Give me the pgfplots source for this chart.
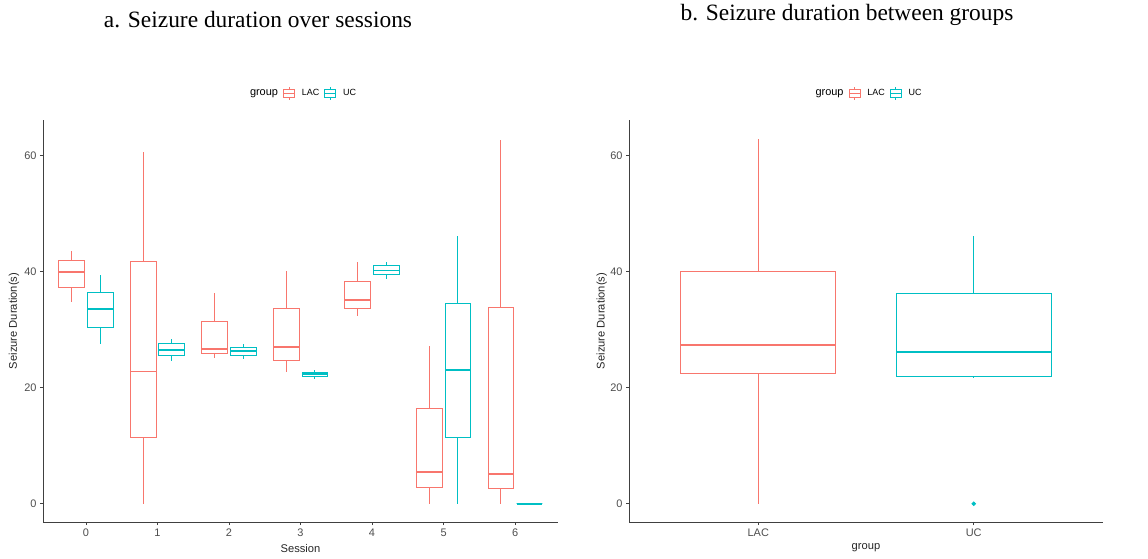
\documentclass[border=0pt]{standalone}
\usepackage{pgfplots}
\pgfplotsset{compat=1.18}
\usepgfplotslibrary{statistics}
\usepackage{fontspec}
\setmainfont{Liberation Sans}
\newfontfamily\titlefont{Liberation Serif}
\definecolor{lac}{HTML}{F8766D}
\definecolor{uc}{HTML}{00BFC4}
\definecolor{tickgray}{HTML}{4D4D4D}
\pgfplotsset{
  ggbox/.style={
    scale only axis,
    axis x line*=bottom, axis y line*=left,
    axis line style={line width=0.9bp, draw=black!75, -},
    ymin=-3.15, ymax=66.15, ytick={0,20,40,60},
    tick align=outside, major tick length=3bp,
    tick style={line width=0.8bp, draw=black!75},
    ticklabel style={font=\fontsize{11}{13}\selectfont, text=tickgray},
    /pgf/number format/assume math mode=true,
    label style={font=\fontsize{11.2}{13}\selectfont, text=black!85},
    ylabel={Seizure Duration(s)},
    boxplot/draw direction=y,
    boxplot/whisker extend=0,
    boxplot/every median/.style={line width=1.9bp},
    legend columns=-1,
    legend style={draw=none, fill=none, font=\fontsize{9}{11}\selectfont,
      at={(0.5,1.067)}, anchor=center,
      /tikz/every odd column/.append style={column sep=5bp},
      /tikz/every even column/.append style={column sep=3bp}},
  },
  lacb/.style={draw=lac, line width=0.8bp, solid, forget plot},
  ucb/.style={draw=uc, line width=0.8bp, solid, forget plot},
  boxicon/.style={legend image code/.code={
      \draw[##1] (0bp,-4bp) rectangle (11bp,4bp);
      \draw[##1] (0bp,0bp) -- (11bp,0bp);
      \draw[##1] (5.5bp,4bp) -- (5.5bp,6.5bp);
      \draw[##1] (5.5bp,-4bp) -- (5.5bp,-6.5bp);}},
}
\begin{document}
\begin{tikzpicture}
\path[use as bounding box] (0,0) rectangle (1148bp,559bp);
\node[font=\titlefont\fontsize{23.5}{27}\selectfont] at (258bp,539bp) {a. Seizure duration over sessions};
\node[font=\titlefont\fontsize{23.5}{27}\selectfont] at (847bp,544bp) {b. Seizure duration between groups};

\begin{axis}[ggbox, at={(43bp,37bp)}, anchor=south west, width=515bp, height=402bp,
  xmin=-0.6, xmax=6.6, xtick={0,1,2,3,4,5,6}, xlabel={Session},
  xlabel style={at={(axis description cs:0.5,-0.065)}, anchor=center},
  ylabel style={at={(axis description cs:-0.0563,0.5)}, anchor=center, rotate=0}]
% Session 0
\addplot[lacb, boxplot prepared={draw position=-0.2, box extend=0.36, lower whisker=34.8, lower quartile=37.3, median=40.0, upper quartile=41.9, upper whisker=43.6}] coordinates {};
\addplot[ucb, boxplot prepared={draw position=0.2, box extend=0.36, lower whisker=27.5, lower quartile=30.4, median=33.5, upper quartile=36.5, upper whisker=39.5}] coordinates {};
% Session 1
\addplot[lacb, boxplot prepared={draw position=0.8, box extend=0.36, lower whisker=0, lower quartile=11.5, median=22.8, upper quartile=41.7, upper whisker=60.7}] coordinates {};
\addplot[ucb, boxplot prepared={draw position=1.2, box extend=0.36, lower whisker=24.6, lower quartile=25.5, median=26.5, upper quartile=27.6, upper whisker=28.4}] coordinates {};
% Session 2
\addplot[lacb, boxplot prepared={draw position=1.8, box extend=0.36, lower whisker=25.2, lower quartile=26.0, median=26.7, upper quartile=31.5, upper whisker=36.4}] coordinates {};
\addplot[ucb, boxplot prepared={draw position=2.2, box extend=0.36, lower whisker=25.0, lower quartile=25.6, median=26.3, upper quartile=27.0, upper whisker=27.6}] coordinates {};
% Session 3
\addplot[lacb, boxplot prepared={draw position=2.8, box extend=0.36, lower whisker=22.7, lower quartile=24.7, median=27.0, upper quartile=33.7, upper whisker=40.2}] coordinates {};
\addplot[ucb, boxplot prepared={draw position=3.2, box extend=0.36, lower whisker=21.5, lower quartile=21.9, median=22.3, upper quartile=22.7, upper whisker=23.0}] coordinates {};
% Session 4
\addplot[lacb, boxplot prepared={draw position=3.8, box extend=0.36, lower whisker=32.4, lower quartile=33.6, median=35.1, upper quartile=38.4, upper whisker=41.6}] coordinates {};
\addplot[ucb, boxplot prepared={draw position=4.2, box extend=0.36, lower whisker=38.8, lower quartile=39.5, median=40.2, upper quartile=41.0, upper whisker=41.6}] coordinates {};
% Session 5
\addplot[lacb, boxplot prepared={draw position=4.8, box extend=0.36, lower whisker=0, lower quartile=2.8, median=5.5, upper quartile=16.4, upper whisker=27.2}] coordinates {};
\addplot[ucb, boxplot prepared={draw position=5.2, box extend=0.36, lower whisker=0, lower quartile=11.5, median=23.1, upper quartile=34.5, upper whisker=46.1}] coordinates {};
% Session 6
\addplot[lacb, boxplot prepared={draw position=5.8, box extend=0.36, lower whisker=0, lower quartile=2.6, median=5.2, upper quartile=33.9, upper whisker=62.7}] coordinates {};
\addplot[ucb, boxplot prepared={draw position=6.2, box extend=0.36, lower whisker=0, lower quartile=0, median=0, upper quartile=0, upper whisker=0}] coordinates {};
\addlegendimage{empty legend}\addlegendentry{\fontsize{11}{13}\selectfont group}
\addlegendimage{boxicon, draw=lac, line width=0.8bp}\addlegendentry{LAC}
\addlegendimage{boxicon, draw=uc, line width=0.8bp}\addlegendentry{UC}
\end{axis}

\begin{axis}[ggbox, at={(629bp,37bp)}, anchor=south west, width=474bp, height=402bp,
  xmin=0.4, xmax=2.6, xtick={1,2}, xticklabels={LAC,UC}, xlabel={group},
  xlabel style={at={(axis description cs:0.5,-0.065)}, anchor=center},
  ylabel style={at={(axis description cs:-0.0576,0.5)}, anchor=center, rotate=0}]
\addplot[lacb, boxplot prepared={draw position=1, box extend=0.72, lower whisker=0, lower quartile=22.5, median=27.3, upper quartile=40.0, upper whisker=62.8}] coordinates {};
\addplot[ucb, mark=*, mark size=1.8bp, mark options={fill=uc, draw=uc}, boxplot prepared={draw position=2, box extend=0.72, lower whisker=21.6, lower quartile=22.0, median=26.1, upper quartile=36.2, upper whisker=46.1}] coordinates {(0,0)};
\addlegendimage{empty legend}\addlegendentry{\fontsize{11}{13}\selectfont group}
\addlegendimage{boxicon, draw=lac, line width=0.8bp}\addlegendentry{LAC}
\addlegendimage{boxicon, draw=uc, line width=0.8bp}\addlegendentry{UC}
\end{axis}
\end{tikzpicture}
\end{document}
